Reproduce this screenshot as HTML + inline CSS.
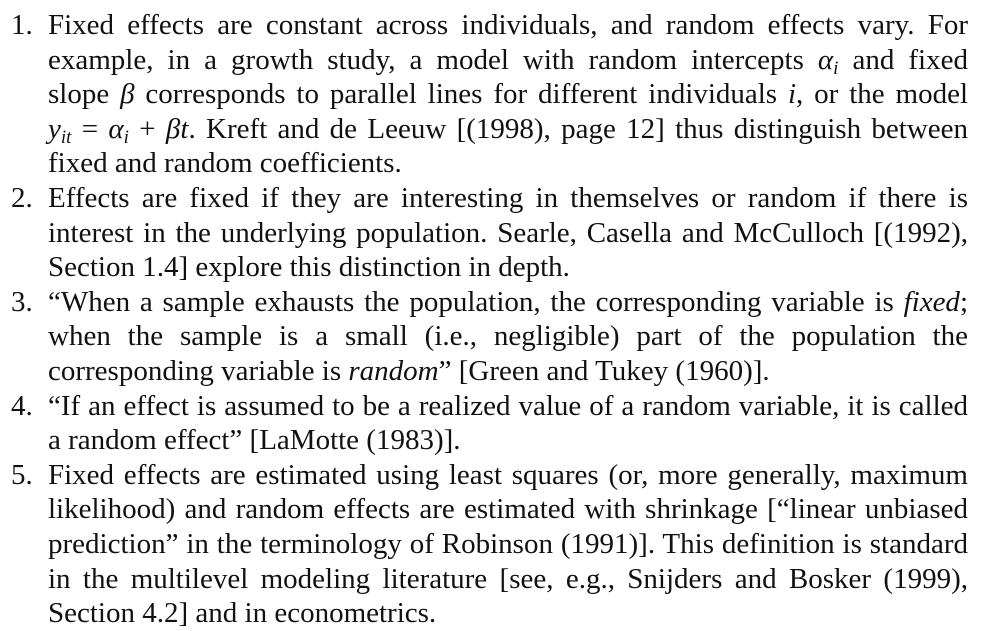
<!DOCTYPE html>
<html>
<head>
<meta charset="utf-8">
<style>
  html,body{margin:0;padding:0;background:#fff;}
  body{width:993px;height:626px;overflow:hidden;position:relative;
       font-family:"Liberation Serif","DejaVu Serif",serif;font-size:29px;color:#111;}
  .list{position:absolute;left:0;top:8px;width:993px;}
  .ln{position:relative;height:34.6px;line-height:34.6px;margin-left:48px;width:920px;
      text-align:justify;text-align-last:justify;white-space:nowrap;}
  .ln.last{text-align-last:left;}
  .ln .num{position:absolute;left:-37px;top:0;}
  .jw{display:block;white-space:normal;}
  i{font-style:italic;}
  sub{font-size:19px;vertical-align:-5px;line-height:0;}
</style>
</head>
<body>
<div class="list">
  <div>
    <div class="ln"><span class="num">1.</span><span class="jw">Fixed effects are constant across individuals, and random effects vary. For</span></div>
    <div class="ln"><span class="jw">example, in a growth study, a model with random intercepts <i>α<sub>i</sub></i> and fixed</span></div>
    <div class="ln"><span class="jw">slope <i>β</i> corresponds to parallel lines for different individuals <i>i</i>, or the model</span></div>
    <div class="ln"><span class="jw"><i>y<sub>it</sub></i> = <i>α<sub>i</sub></i> + <i>βt</i>. Kreft and de Leeuw [(1998), page 12] thus distinguish between</span></div>
    <div class="ln last"><span class="jw">fixed and random coefficients.</span></div>
  </div>
  <div>
    <div class="ln"><span class="num">2.</span><span class="jw">Effects are fixed if they are interesting in themselves or random if there is</span></div>
    <div class="ln"><span class="jw">interest in the underlying population. Searle, Casella and McCulloch [(1992),</span></div>
    <div class="ln last"><span class="jw">Section 1.4] explore this distinction in depth.</span></div>
  </div>
  <div>
    <div class="ln"><span class="num">3.</span><span class="jw">“When a sample exhausts the population, the corresponding variable is <i>fixed</i>;</span></div>
    <div class="ln"><span class="jw">when the sample is a small (i.e., negligible) part of the population the</span></div>
    <div class="ln last"><span class="jw">corresponding variable is <i>random</i>” [Green and Tukey (1960)].</span></div>
  </div>
  <div>
    <div class="ln"><span class="num">4.</span><span class="jw">“If an effect is assumed to be a realized value of a random variable, it is called</span></div>
    <div class="ln last"><span class="jw">a random effect” [LaMotte (1983)].</span></div>
  </div>
  <div>
    <div class="ln"><span class="num">5.</span><span class="jw">Fixed effects are estimated using least squares (or, more generally, maximum</span></div>
    <div class="ln"><span class="jw">likelihood) and random effects are estimated with shrinkage [“linear unbiased</span></div>
    <div class="ln"><span class="jw">prediction” in the terminology of Robinson (1991)]. This definition is standard</span></div>
    <div class="ln"><span class="jw">in the multilevel modeling literature [see, e.g., Snijders and Bosker (1999),</span></div>
    <div class="ln last"><span class="jw">Section 4.2] and in econometrics.</span></div>
  </div>
</div>
</body>
</html>
